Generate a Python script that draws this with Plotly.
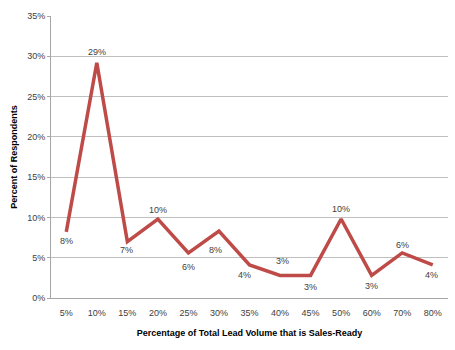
import plotly.graph_objects as go

categories = ["5%", "10%", "15%", "20%", "25%", "30%", "35%", "40%", "45%", "50%", "60%", "70%", "80%"]
values = [0.082, 0.292, 0.070, 0.098, 0.056, 0.083, 0.041, 0.028, 0.028, 0.098, 0.028, 0.056, 0.041]
labels = ["8%", "29%", "7%", "10%", "6%", "8%", "4%", "3%", "3%", "10%", "3%", "6%", "4%"]
# label offsets (pixels) relative to each point
label_dx = [0, 0, -1, 0, 0, -3, -5, 2, 0, 0, 0, 0, -1]
label_dy = [-9, 11, -8, 9, -14, -19, -10, 14, -12, 10, -11, 8, -10]

FONT = "Liberation Sans, Arial, sans-serif"
fig = go.Figure()
fig.add_trace(go.Scatter(
    x=categories, y=values, mode="lines",
    line=dict(color="#BE4B48", width=3.5),
    hoverinfo="skip", showlegend=False,
))
for c, v, t, dx, dy in zip(categories, values, labels, label_dx, label_dy):
    fig.add_annotation(x=c, y=v, text=t, showarrow=False, xshift=dx, yshift=dy,
                       font=dict(family=FONT, size=9, color="#404040"))
fig.update_layout(
    width=455, height=350,
    margin=dict(l=51, r=7, t=16, b=52),
    paper_bgcolor="white", plot_bgcolor="white",
    font=dict(family=FONT, size=9, color="#404040"),
    xaxis=dict(
        type="category", range=[-0.5, 12.5],
        showgrid=False, showline=True, linecolor="#A6A6A6", linewidth=1,
        ticks="", tickfont=dict(size=9, color="#404040"), ticklabelstandoff=6,
        title=dict(text="<b>Percentage of Total Lead Volume that is Sales-Ready</b>",
                   font=dict(size=9, color="#000000"), standoff=12),
    ),
    yaxis=dict(
        range=[0, 0.35], dtick=0.05, tickformat=".0%",
        showgrid=True, gridcolor="#BFBFBF", gridwidth=1,
        showline=True, linecolor="#A6A6A6", linewidth=1,
        ticks="outside", ticklen=3, tickcolor="#A6A6A6",
        tickfont=dict(size=9, color="#404040"),
        zeroline=False,
        title=dict(text="<b>Percent of Respondents</b>",
                   font=dict(size=9, color="#000000"), standoff=8),
    ),
)
fig.write_html("out.html")
